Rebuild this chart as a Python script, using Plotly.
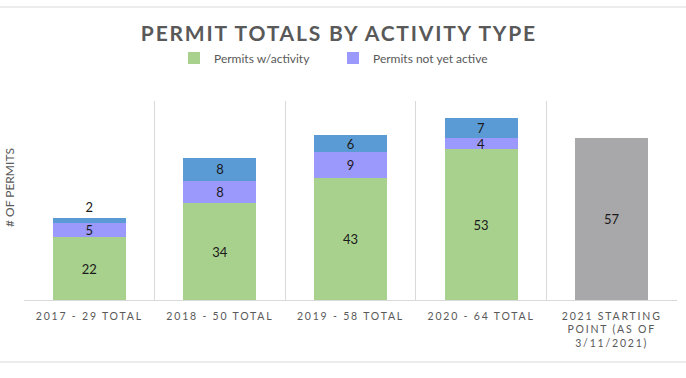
import plotly.graph_objects as go

categories = ["2017 - 29 TOTAL", "2018 - 50 TOTAL", "2019 - 58 TOTAL", "2020 - 64 TOTAL",
              "2021 STARTING<br>POINT (AS OF<br>3/11/2021)"]
with_activity = [22, 34, 43, 53, None]
not_yet_active = [5, 8, 9, 4, None]
other_permits = [2, 8, 6, 7, None]
starting_point = [None, None, None, None, 57]

GREEN = "#A9D18E"
PURPLE = "#9C99FC"
BLUE = "#5B9BD5"
GRAY = "#A8A7A9"
TXT = "#595959"
FONT = "Lato, 'Open Sans', sans-serif"

fig = go.Figure()
lbl = dict(size=13, color="#1a1a1a", family=FONT)
common = dict(insidetextanchor="middle", textfont=lbl, textangle=0, constraintext="none")
fig.add_bar(x=categories, y=with_activity, name="Permits w/activity", marker_color=GREEN,
            text=with_activity, textposition="inside", **common)
fig.add_bar(x=categories, y=not_yet_active, name="Permits not yet active", marker_color=PURPLE,
            text=not_yet_active, textposition="inside", **common)
fig.add_bar(x=categories, y=other_permits, name="Other permits", marker_color=BLUE, showlegend=False,
            text=other_permits, textposition=["outside", "inside", "inside", "inside", "inside"],
            outsidetextfont=lbl, **common)
fig.add_bar(x=categories, y=starting_point, name="2021 starting point", marker_color=GRAY, showlegend=False,
            text=starting_point, textposition="inside", **common)

for tr in fig.data:
    tr.marker.line.width = 0
    tr.cliponaxis = False
    tr.hoverinfo = "skip"

fig.update_layout(
    width=686, height=378, autosize=False,
    barmode="stack", bargap=0.44,
    margin=dict(l=24, r=9, t=101, b=78),
    paper_bgcolor="white", plot_bgcolor="white",
    font=dict(family=FONT, color=TXT),
    title=dict(text="<b>PERMIT TOTALS BY ACTIVITY TYPE</b>", x=0.494, xref="container", xanchor="center",
               y=1 - 34 / 378, yref="container", yanchor="middle",
               font=dict(size=21, color=TXT, family=FONT)),
    legend=dict(orientation="h", x=(174 - 24) / 653, xanchor="left", y=1 + (101 - 58) / 199,
                yanchor="middle", font=dict(size=12, color=TXT, family=FONT),
                entrywidth=114, entrywidthmode="pixels", itemwidth=30, traceorder="normal"),
    uniformtext=dict(minsize=13, mode="show"),
    showlegend=True,
)
fig.update_xaxes(showgrid=True, gridcolor="#D9D9D9", gridwidth=1, tickson="boundaries",
                 ticks="", showline=True, linecolor="#D9D9D9", linewidth=1,
                 tickfont=dict(size=10.5, color=TXT, family=FONT), ticklabelstandoff=6)
fig.update_yaxes(range=[0, 70], showgrid=False, showticklabels=False, ticks="", showline=False,
                 zeroline=False)
fig.add_annotation(text="# OF PERMITS", xref="paper", yref="paper", x=(9 - 24) / 653, y=(300 - 188) / 199,
                   xanchor="center", yanchor="middle", textangle=-90, showarrow=False,
                   font=dict(size=12, color=TXT, family=FONT))
fig.add_shape(type="line", xref="paper", yref="paper", x0=-24 / 653, x1=662 / 653,
              y0=(300 - 7) / 199, y1=(300 - 7) / 199, line=dict(color="#D9D9D9", width=1))
fig.add_shape(type="line", xref="paper", yref="paper", x0=-24 / 653, x1=662 / 653,
              y0=(300 - 362) / 199, y1=(300 - 362) / 199, line=dict(color="#D9D9D9", width=1))

post = """
document.body.style.margin='0';
document.body.style.overflow='hidden';
var gd = document.getElementById('{plot_id}');
function sp(){
  gd.querySelectorAll('.gtitle').forEach(function(e){e.style.letterSpacing='1.8px';});
  gd.querySelectorAll('.xtick text').forEach(function(e){e.style.letterSpacing='1.8px';});
}
sp();
gd.on('plotly_afterplot', sp);
"""
fig.write_html("out.html", post_script=post, config={"displayModeBar": False})
